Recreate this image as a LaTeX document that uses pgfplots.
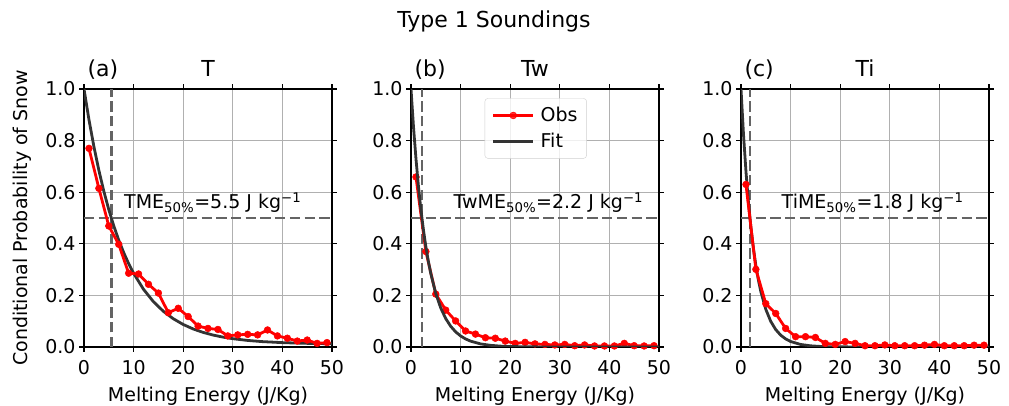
\documentclass[border=0pt]{standalone}
\usepackage{fontspec}
\setmainfont{DejaVu Sans}
\usepackage{pgfplots}
\pgfplotsset{compat=1.18}
\usepackage{pgfplotstable}

\pgfplotstableread{
x y
1 0.770
3 0.615
5 0.469
7 0.398
9 0.286
11 0.283
13 0.243
15 0.209
17 0.133
19 0.150
21 0.118
23 0.081
25 0.072
27 0.068
29 0.043
31 0.047
33 0.049
35 0.047
37 0.066
39 0.043
41 0.034
43 0.023
45 0.027
47 0.014
49 0.017
}\obsT
\pgfplotstableread{
x y
0 1.000
1 0.881
2 0.7765
3 0.6845
4 0.6035
5 0.5323
6 0.4696
7 0.4144
8 0.3659
9 0.3232
10 0.2857
12 0.2236
14 0.1756
16 0.1384
18 0.1096
20 0.0873
22 0.0700
24 0.0567
26 0.0464
28 0.0384
30 0.0322
33 0.0254
36 0.0208
40 0.0169
45 0.0141
50 0.0126
}\fitT
\pgfplotstableread{
x y
1 0.659
3 0.370
5 0.205
7 0.143
9 0.101
11 0.062
13 0.050
15 0.036
17 0.034
19 0.023
21 0.014
23 0.018
25 0.012
27 0.010
29 0.008
31 0.010
33 0.005
35 0.008
37 0.004
39 0.004
41 0.004
43 0.014
45 0.005
47 0.004
49 0.005
}\obsTw
\pgfplotstableread{
x y
0 1.000
0.5 0.8542
1 0.7297
1.5 0.6233
2 0.5324
2.5 0.4548
3 0.3885
3.5 0.3319
4 0.2835
5 0.2069
6 0.1510
7 0.1102
8 0.0804
9 0.0587
10 0.0428
11 0.0313
12 0.0228
14 0.0121
16 0.0065
18 0.0034
20 0.0018
25 0.0004
30 0.0001
40 0.0000
50 0.0000
}\fitTw
\pgfplotstableread{
x y
1 0.630
3 0.301
5 0.168
7 0.130
9 0.072
11 0.040
13 0.040
15 0.037
17 0.014
19 0.010
21 0.021
23 0.014
25 0.005
27 0.005
29 0.008
31 0.005
33 0.005
35 0.005
37 0.007
39 0.010
41 0.005
43 0.005
45 0.005
47 0.007
49 0.007
}\obsTi
\pgfplotstableread{
x y
0 1.000
0.5 0.8249
1 0.6804
1.5 0.5613
2 0.4630
2.5 0.3819
3 0.3150
3.5 0.2599
4 0.2144
5 0.1459
6 0.0992
7 0.0675
8 0.0459
9 0.0313
10 0.0213
12 0.0099
14 0.0046
16 0.0021
18 0.0010
20 0.0005
25 0.0001
30 0.0000
50 0.0000
}\fitTi

\definecolor{gridgray}{RGB}{176,176,176}
\definecolor{fitgray}{RGB}{51,51,51}
\definecolor{dashgray}{RGB}{100,100,100}
\newcommand{\tfont}{\fontsize{19}{22}\selectfont}
\newcommand{\ttfont}{\fontsize{22}{26}\selectfont}

\pgfplotsset{
  panel/.style={
    scale only axis, width=248pt, height=258pt,
    xmin=0, xmax=50, ymin=0, ymax=1,
    xtick={0,10,20,30,40,50},
    ytick={0,0.2,0.4,0.6,0.8,1.0},
    grid=major,
    grid style={color=gridgray, line width=1.1pt},
    axis line style={line width=1.1pt},
    tick align=outside,
    major tick length=4.9pt,
    tick style={black, line width=1.1pt},
    ticklabel style={font=\tfont},
    /pgf/number format/assume math mode=true,
    yticklabel style={/pgf/number format/.cd, fixed, fixed zerofill, precision=1},
    xticklabel style={anchor=base, yshift=-22.4pt},
    xlabel={Melting Energy (J/Kg)},
    label style={font=\tfont},
    xlabel style={at={(axis description cs:0.5,0)}, anchor=base, yshift=-54.5pt},
    clip mode=individual,
  },
  obs/.style={color=red, line width=2.8pt, mark=*, mark size=3.4pt, mark options={solid, fill=red, draw=red, line width=0.5pt}},
  fit/.style={color=fitgray, line width=2.8pt, no marks},
  ref/.style={color=dashgray, line width=2.8pt, dash pattern=on 10.3pt off 4.4pt, forget plot},
}

\begin{document}
\begin{tikzpicture}
\path[use as bounding box] (0pt,0pt) rectangle (1009pt,406pt);
\node[anchor=base, font=\ttfont] at (494pt,378pt) {Type 1 Soundings};

% Panel a
\begin{axis}[panel, at={(84pt,59pt)}, anchor=south west,
  ylabel={Conditional Probability of Snow},
  ylabel style={at={(axis description cs:-0.25,0.5)}, anchor=center}]
\addplot[ref] coordinates {(0,0.5) (50,0.5)};
\addplot[ref] coordinates {(5.5,0) (5.5,1)};
\addplot[fit] table[x=x,y=y] {\fitT};
\addplot[obs] table[x=x,y=y] {\obsT};
\node[anchor=base west, font=\tfont] at (axis cs:7.4,0.535) {TME\textsubscript{50\%}=5.5 J kg\textsuperscript{−1}};
\node[anchor=base west, font=\ttfont] at (rel axis cs:0,1) [yshift=12pt] {(a)};
\node[anchor=base, font=\ttfont] at (rel axis cs:0.5,1) [yshift=12pt] {T};
\end{axis}

% Panel b
\begin{axis}[panel, at={(411pt,59pt)}, anchor=south west,
  legend style={at={(0.503,0.964)}, anchor=north, draw=gridgray!60, rounded corners=3pt,
    fill=white, fill opacity=0.8, text opacity=1, font=\tfont, inner xsep=7pt, inner ysep=7pt,
    row sep=6pt, cells={anchor=west},
    /tikz/every odd column/.append style={column sep=4pt}},
  legend image code/.code={\draw[mark repeat=2, mark phase=2, #1] plot coordinates {(0pt,0pt) (20pt,0pt) (40pt,0pt)};}]
\addplot[ref] coordinates {(0,0.5) (50,0.5)};
\addplot[ref] coordinates {(2.2,0) (2.2,1)};
\addplot[obs] table[x=x,y=y] {\obsTw};
\addlegendentry{Obs}
\addplot[fit] table[x=x,y=y] {\fitTw};
\addlegendentry{Fit}
\node[anchor=base west, font=\tfont] at (axis cs:7.9,0.535) {TwME\textsubscript{50\%}=2.2 J kg\textsuperscript{−1}};
\node[anchor=base west, font=\ttfont] at (rel axis cs:0,1) [yshift=12pt] {(b)};
\node[anchor=base, font=\ttfont] at (rel axis cs:0.5,1) [yshift=12pt] {Tw};
\end{axis}

% Panel c
\begin{axis}[panel, at={(741pt,59pt)}, anchor=south west]
\addplot[ref] coordinates {(0,0.5) (50,0.5)};
\addplot[ref] coordinates {(1.8,0) (1.8,1)};
\addplot[fit] table[x=x,y=y] {\fitTi};
\addplot[obs] table[x=x,y=y] {\obsTi};
\node[anchor=base west, font=\tfont] at (axis cs:7.5,0.535) {TiME\textsubscript{50\%}=1.8 J kg\textsuperscript{−1}};
\node[anchor=base west, font=\ttfont] at (rel axis cs:0,1) [yshift=12pt] {(c)};
\node[anchor=base, font=\ttfont] at (rel axis cs:0.5,1) [yshift=12pt] {Ti};
\end{axis}
\end{tikzpicture}
\end{document}
